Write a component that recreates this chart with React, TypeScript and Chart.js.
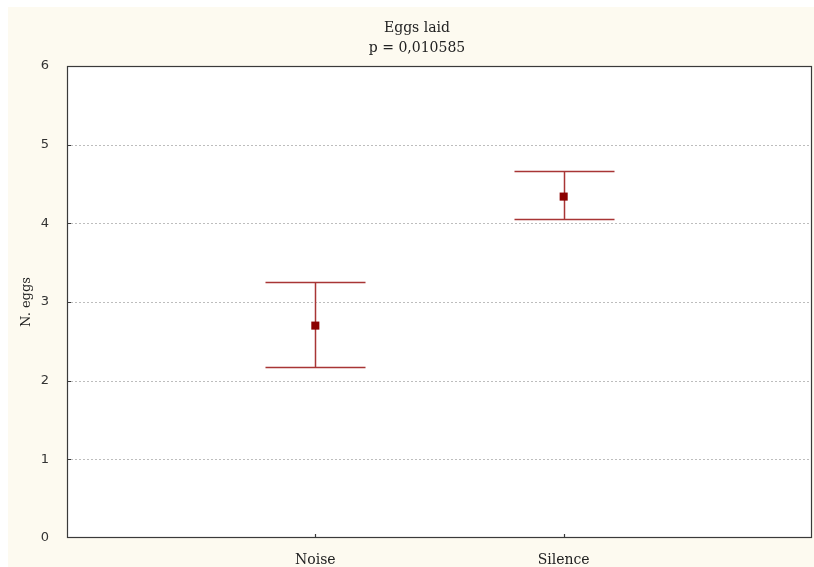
import { useEffect, useRef } from 'react';
import { Chart, registerables } from 'chart.js';

Chart.register(...registerables);

const categories = ['Noise', 'Silence'];
const means = [2.7, 4.34];
const upperBars = [3.25, 4.67];
const lowerBars = [2.18, 4.05];
const yMin = 0;
const yMax = 6;
const titleLines = ['Eggs laid', 'p = 0,010585'];
const yAxisTitle = 'N. eggs';

const CREAM = '#FDFAF0';

const decorPlugin = {
  id: 'decor',
  beforeDraw(chart: any) {
    const { ctx, chartArea: a, width, height } = chart;
    const ys = chart.scales.y;
    ctx.save();
    ctx.fillStyle = '#ffffff';
    ctx.fillRect(0, 0, width, height);
    ctx.fillStyle = CREAM;
    ctx.fillRect(8, 7, width - 8, height - 7);
    ctx.fillStyle = '#ffffff';
    ctx.fillRect(a.left, a.top, a.right - a.left, a.bottom - a.top);
    // grid lines
    ctx.strokeStyle = '#bdbdbd';
    ctx.lineWidth = 1;
    ctx.setLineDash([2, 2]);
    for (let v = yMin + 1; v < yMax; v++) {
      const y = Math.round(ys.getPixelForValue(v)) + 0.5;
      ctx.beginPath();
      ctx.moveTo(a.left, y);
      ctx.lineTo(a.right, y);
      ctx.stroke();
    }
    ctx.setLineDash([]);
    // title
    ctx.fillStyle = '#222';
    ctx.font = '14px "DejaVu Serif"';
    ctx.textAlign = 'center';
    ctx.textBaseline = 'middle';
    ctx.fillText(titleLines[0], 417, 28);
    ctx.fillText(titleLines[1], 417, 48);
    // y axis title
    ctx.save();
    ctx.translate(27, (a.top + a.bottom) / 2);
    ctx.rotate(-Math.PI / 2);
    ctx.font = '13px "DejaVu Serif"';
    ctx.fillText(yAxisTitle, 0, 0);
    ctx.restore();
    ctx.restore();
  },
  beforeDatasetsDraw(chart: any) {
    const { ctx } = chart;
    const xs = chart.scales.x;
    const ys = chart.scales.y;
    ctx.save();
    ctx.strokeStyle = '#A83535';
    ctx.lineWidth = 1.5;
    categories.forEach((_, i) => {
      const x = Math.round(xs.getPixelForValue(i + 1)) + 0.5;
      const yu = Math.round(ys.getPixelForValue(upperBars[i])) + 0.5;
      const yl = Math.round(ys.getPixelForValue(lowerBars[i])) + 0.5;
      ctx.beginPath();
      ctx.moveTo(x, yu);
      ctx.lineTo(x, yl);
      ctx.moveTo(x - 50, yu);
      ctx.lineTo(x + 50, yu);
      ctx.moveTo(x - 50, yl);
      ctx.lineTo(x + 50, yl);
      ctx.stroke();
    });
    ctx.restore();
  },
  afterDraw(chart: any) {
    const { ctx, chartArea: a } = chart;
    const xs = chart.scales.x;
    const ys = chart.scales.y;
    ctx.save();
    ctx.strokeStyle = '#3a3a3a';
    ctx.lineWidth = 1.2;
    ctx.strokeRect(a.left + 0.5, a.top + 0.5, a.right - a.left - 1, a.bottom - a.top - 1);
    ctx.beginPath();
    for (let v = yMin + 1; v < yMax; v++) {
      const y = Math.round(ys.getPixelForValue(v)) + 0.5;
      ctx.moveTo(a.left, y);
      ctx.lineTo(a.left + 4, y);
    }
    categories.forEach((_, i) => {
      const x = Math.round(xs.getPixelForValue(i + 1)) + 0.5;
      ctx.moveTo(x, a.bottom);
      ctx.lineTo(x, a.bottom - 4);
    });
    ctx.stroke();
    ctx.restore();
  },
};

export default function App() {
  const ref = useRef<HTMLCanvasElement>(null);
  useEffect(() => {
    const chart = new Chart(ref.current as HTMLCanvasElement, {
      type: 'scatter',
      data: {
        datasets: [
          {
            data: categories.map((_, i) => ({ x: i + 1, y: means[i] })),
            pointStyle: 'rect',
            pointRadius: 5.7,
            pointHoverRadius: 5.7,
            backgroundColor: '#8B0000',
            borderColor: '#8B0000',
            borderWidth: 0,
          },
        ],
      },
      options: {
        responsive: false,
        animation: false,
        devicePixelRatio: 1,
        layout: { autoPadding: false, padding: { top: 66, right: 2, left: 0, bottom: 0 } },
        plugins: {
          legend: { display: false },
          tooltip: { enabled: false },
          title: { display: false },
        },
        scales: {
          x: {
            type: 'linear',
            min: 0,
            max: categories.length + 1,
            afterFit: (s: any) => {
              s.height = 29;
              s.paddingLeft = 0;
              s.paddingRight = 0;
            },
            grid: { display: false },
            border: { display: false },
            ticks: {
              stepSize: 1,
              autoSkip: false,
              maxRotation: 0,
              callback: (v: any) =>
                Number.isInteger(v) && v >= 1 && v <= categories.length ? categories[v - 1] : '',
              font: { family: 'DejaVu Serif', size: 14 },
              color: '#222',
              padding: 6,
            },
          },
          y: {
            min: yMin,
            max: yMax,
            afterFit: (s: any) => {
              s.width = 67;
              s.paddingTop = 0;
              s.paddingBottom = 0;
            },
            grid: { display: false },
            border: { display: false },
            ticks: {
              stepSize: 1,
              font: { family: 'DejaVu Sans', size: 13 },
              color: '#333',
              padding: 10,
            },
          },
        },
      },
      plugins: [decorPlugin],
    });
    return () => chart.destroy();
  }, []);
  return (
    <div style={{ position: 'fixed', left: 0, top: 0, width: 814, height: 567 }}>
      <canvas ref={ref} width={814} height={567} style={{ display: 'block' }} />
    </div>
  );
}
